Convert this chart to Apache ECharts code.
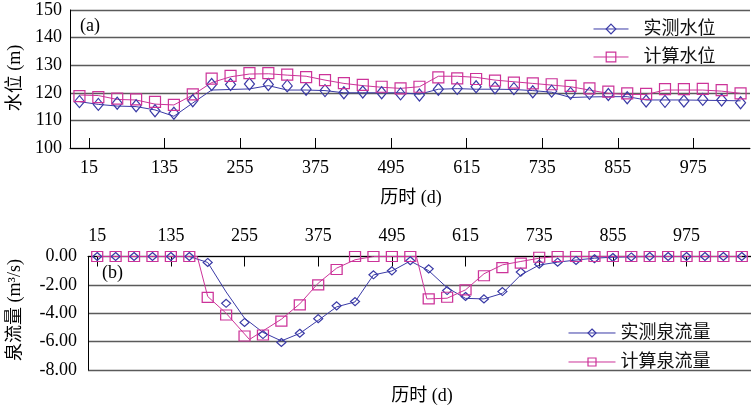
<!DOCTYPE html>
<html><head><meta charset="utf-8">
<script src="https://cdn.jsdelivr.net/npm/echarts@6/dist/echarts.min.js"></script>
<style>html,body{margin:0;padding:0;background:#fff}#c{width:751px;height:409px}</style>
</head><body><div id="c"></div>
<script>
// ---- data ----
const days = [15,45,75,105,135,165,195,225,255,285,315,345,375,405,435,465,495,525,555,585,615,645,675,705,735,765,795,825,855,885,915,945,975,1005,1035,1065];
const xTickLabels = [15,135,255,375,495,615,735,855,975];
const levelTicks = [100,110,120,130,140,150];

// (a) water level, markers and lines
const levelObs     = [116.8,115.8,116.2,115.3,113.5,112.6,117.1,123.0,123.0,123.2,123.0,122.5,121.3,120.8,120.0,120.3,120.0,119.6,119.2,121.3,121.6,122.2,121.8,121.5,120.4,120.6,119.8,119.8,119.4,118.2,117.0,116.9,117.0,117.6,117.4,116.4];
const levelObsLine = [116.8,115.8,115.2,115.0,113.8,111.5,116.3,121.0,121.2,121.4,122.6,121.0,121.0,120.8,120.0,120.0,120.0,120.0,119.5,121.3,121.5,121.3,121.3,121.2,120.8,120.2,118.3,118.5,118.6,118.6,117.4,117.4,117.4,117.3,117.2,117.1];
const levelCalc    = [118.8,118.4,117.9,117.6,116.7,115.6,119.4,125.1,126.1,127.1,127.1,126.6,125.7,124.6,123.5,122.9,122.2,121.6,122.2,125.6,125.2,125.0,124.4,123.7,123.4,123.1,122.5,121.6,120.4,119.8,119.6,121.3,121.3,121.4,121.0,119.8];
const levelCalcLine= [119.2,119.0,117.6,117.4,115.9,115.6,119.2,123.7,125.8,126.8,126.9,126.4,126.0,124.6,123.4,122.6,122.0,121.6,122.2,126.0,126.0,125.6,124.6,124.0,123.4,122.8,122.2,121.0,119.8,119.4,119.4,121.0,121.0,121.0,120.6,119.8];

// (b) spring flow, markers and lines
const flowObs     = [0,0,0,0,0,0,-0.42,-3.30,-4.65,-5.50,-6.06,-5.41,-4.38,-3.48,-3.18,-1.29,-1.01,-0.30,-0.87,-2.40,-2.82,-2.99,-2.47,-1.10,-0.54,-0.40,-0.28,-0.16,-0.07,-0.03,0,0,0,0,0,0];
const flowObsLine = [0,0,0,0,0,0,-0.42,-2.50,-4.35,-5.35,-5.95,-5.42,-4.50,-3.55,-3.20,-1.30,-1.02,-0.32,-1.00,-2.20,-2.95,-2.99,-2.60,-1.30,-0.60,-0.40,-0.25,-0.12,-0.05,-0.02,0,0,0,0,0,0];
const flowCalc    = [0,0,0,0,0,0,-2.88,-4.12,-5.60,-5.53,-4.55,-3.41,-2.00,-0.92,0,0,0,0,-2.99,-2.87,-2.35,-1.36,-0.78,-0.47,-0.05,0,0,0,0,0,0,0,0,0,0,0];
const flowCalcLineDays = [15,45,75,105,135,165,178,195,225,263,315,345,375,405,435,465,495,525,535,552,585,615,645,675,705,735,765,795,825,855,885,915,945,975,1005,1035,1065];
const flowCalcLineVals = [0,0,0,0,0,0,0,-2.82,-4.00,-5.85,-4.42,-3.34,-1.88,-0.82,-0.23,0,0,0,0,-2.99,-2.94,-2.35,-1.22,-0.59,-0.35,-0.12,0,0,0,0,0,0,0,0,0,0,0];

// ---- chart ----
const SERIF = '"Liberation Serif","Times New Roman","Noto Sans CJK SC",serif';
const BLUE = '#3a3aa6', PINK = '#cc3399';
const GRID = '#5a5a5a';
const chart = echarts.init(document.getElementById('c'), null, {renderer: 'canvas'});

const aTickPos = xTickLabels.map((t, j) => 0.5 + 4 * j);
const labelStyle = {fontFamily: SERIF, fontSize: 18, color: '#000'};

const markerSeries = (name, xi, yi, xs, ys, symbol, size) => ({
  name, type: 'line', xAxisIndex: xi, yAxisIndex: yi,
  data: xs.map((x, i) => [x, ys[i]]),
  symbol, symbolSize: size, showSymbol: true,
  lineStyle: {width: 0, color: symbol === 'diamond' ? BLUE : PINK},
  itemStyle: {color: 'transparent', borderColor: symbol === 'diamond' ? BLUE : PINK, borderWidth: 1.2},
  z: 3, silent: true
});
const lineSeries = (xi, yi, xs, ys, color) => ({
  type: 'line', xAxisIndex: xi, yAxisIndex: yi,
  data: xs.map((x, i) => [x, ys[i]]),
  symbol: 'none', lineStyle: {width: 1, color}, z: 2, silent: true
});

const idx = days.map((d, i) => i);

const option = {
  animation: false,
  backgroundColor: '#fff',
  grid: [
    {left: 70, right: 1, top: 10, height: 138},
    {left: 88, right: -7, top: 256.5, height: 113.5}
  ],
  xAxis: [
    {gridIndex: 0, type: 'value', min: -0.5, max: 35.5,
     axisLine: {onZero: false, lineStyle: {color: '#000', width: 1}},
     axisTick: {inside: true, length: 10, customValues: aTickPos, lineStyle: {color: '#000'}},
     axisLabel: Object.assign({customValues: aTickPos, margin: 11,
       formatter: v => String(xTickLabels[Math.round((v - 0.5) / 4)])}, labelStyle),
     splitLine: {show: false}},
    {gridIndex: 1, type: 'value', position: 'top', min: 0, max: 1080,
     axisLine: {onZero: false, lineStyle: {color: '#000', width: 1}},
     axisTick: {inside: true, length: 10, customValues: xTickLabels, lineStyle: {color: '#000'}},
     axisLabel: Object.assign({customValues: xTickLabels, margin: 11}, labelStyle),
     splitLine: {show: false}}
  ],
  yAxis: [
    {gridIndex: 0, type: 'value', min: 100, max: 150, interval: 10,
     axisLine: {show: true, onZero: false, lineStyle: {color: '#000'}},
     axisTick: {show: false},
     axisLabel: Object.assign({margin: 8}, labelStyle),
     splitLine: {lineStyle: {color: GRID, width: 1.3}}},
    {gridIndex: 1, type: 'value', min: -8, max: 0, interval: 2,
     axisLine: {show: true, onZero: false, lineStyle: {color: '#000'}},
     axisTick: {show: false},
     axisLabel: Object.assign({margin: 11, formatter: v => v.toFixed(2)}, labelStyle),
     splitLine: {lineStyle: {color: GRID, width: 1.3}}}
  ],
  legend: [
    {data: ['实测水位', '计算水位'], orient: 'vertical', left: 588, top: 15,
     itemWidth: 35, itemHeight: 12, itemGap: 10,
     lineStyle: {width: 1}, itemStyle: {borderWidth: 1.2},
     textStyle: {fontFamily: SERIF, fontSize: 18, color: '#111', padding: [0, 0, 0, 10]},
     selectedMode: false},
    {data: ['实测泉流量', '计算泉流量'], orient: 'vertical', left: 563, top: 319,
     itemWidth: 47, itemHeight: 10, itemGap: 11,
     lineStyle: {width: 1}, itemStyle: {borderWidth: 1.2},
     textStyle: {fontFamily: SERIF, fontSize: 18, color: '#111', padding: [0, 0, 0, 0]},
     selectedMode: false}
  ],
  graphic: [
    {type: 'text', x: 80, y: 26, style: {text: '(a)', font: '18px ' + SERIF, fill: '#000', verticalAlign: 'middle'}},
    {type: 'text', x: 102, y: 273, style: {text: '(b)', font: '18px ' + SERIF, fill: '#000', verticalAlign: 'middle'}},
    {type: 'text', x: 411, y: 198, style: {text: '历时 (d)', font: '18px ' + SERIF, fill: '#000', align: 'center', verticalAlign: 'middle'}},
    {type: 'text', x: 422, y: 396, style: {text: '历时 (d)', font: '18px ' + SERIF, fill: '#000', align: 'center', verticalAlign: 'middle'}},
    {type: 'text', x: 15, y: 78, rotation: Math.PI / 2, style: {text: '水位 (m)', font: '18px ' + SERIF, fill: '#000', align: 'center', verticalAlign: 'middle'}},
    {type: 'text', x: 15, y: 310, rotation: Math.PI / 2, style: {text: '泉流量 (m³/s)', font: '18px ' + SERIF, fill: '#000', align: 'center', verticalAlign: 'middle'}}
  ],
  series: [
    lineSeries(0, 0, idx, levelObsLine, BLUE),
    lineSeries(0, 0, idx, levelCalcLine, PINK),
    markerSeries('实测水位', 0, 0, idx, levelObs, 'diamond', [10, 12]),
    markerSeries('计算水位', 0, 0, idx, levelCalc, 'rect', [11, 11]),
    lineSeries(1, 1, days, flowObsLine, BLUE),
    lineSeries(1, 1, flowCalcLineDays, flowCalcLineVals, PINK),
    markerSeries('实测泉流量', 1, 1, days, flowObs, 'diamond', [9, 8]),
    markerSeries('计算泉流量', 1, 1, days, flowCalc, 'rect', [11, 10])
  ]
};
chart.setOption(option);
</script>
</body></html>
